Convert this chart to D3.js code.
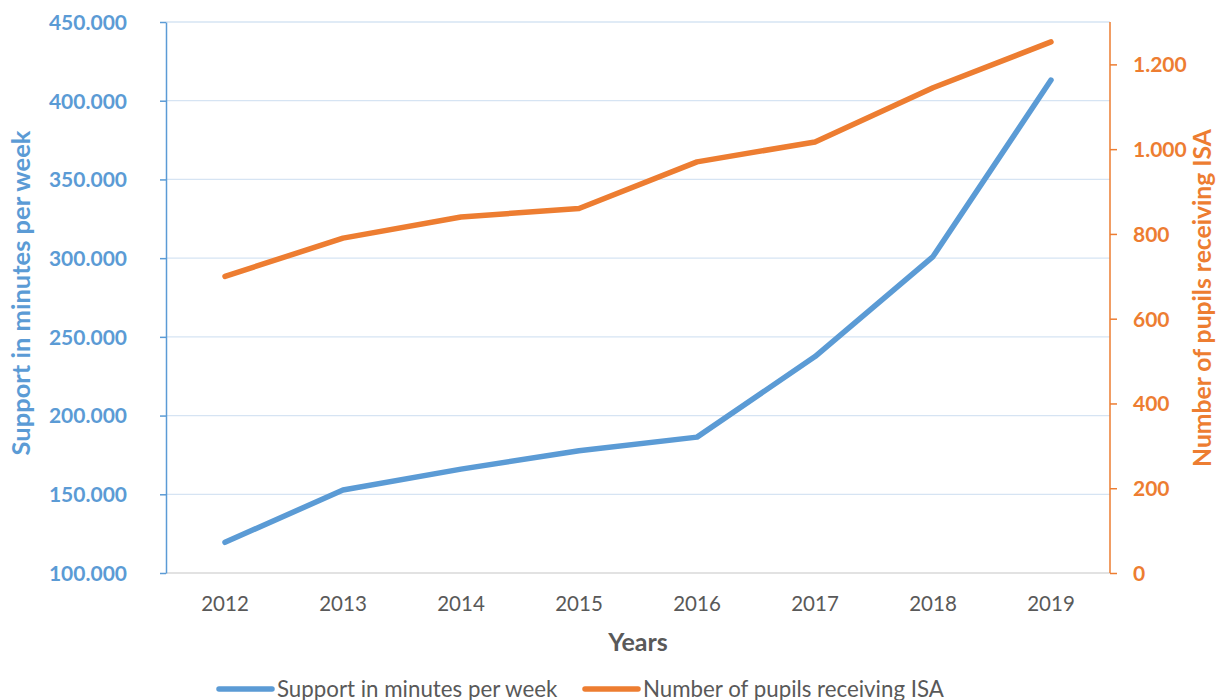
<!DOCTYPE html>
<html>
<head>
<meta charset="utf-8">
<script src="https://cdn.jsdelivr.net/npm/d3@7"></script>
<style>
  html, body { margin: 0; padding: 0; background: #fff; }
  svg text { font-family: Lato, "Open Sans", sans-serif; }
</style>
</head>
<body>
<svg id="chart" width="1217" height="700"></svg>
<script>
// Years on the category axis
const years = ["2012", "2013", "2014", "2015", "2016", "2017", "2018", "2019"];
// Weekly support minutes (left axis)
const supportMinutes = [119500, 152700, 166000, 177700, 186300, 237500, 301000, 413100];
// Pupils receiving ISA (right axis)
const pupilsISA = [700, 790, 840, 860, 970, 1017, 1145, 1253];
// Axis tick values
const leftTicks = [100000, 150000, 200000, 250000, 300000, 350000, 400000, 450000];
const rightTicks = [0, 200, 400, 600, 800, 1000, 1200];

const blue = "#5b9bd5", orange = "#ed7d31", grey = "#595959";

// Dot as thousands separator
const loc = d3.formatLocale({ decimal: ",", thousands: ".", grouping: [3], currency: ["", ""] });
const fmtInt = loc.format(",d");

const plot = { left: 166, right: 1110, top: 22, bottom: 573 };
const svg = d3.select("#chart");

const x = d3.scalePoint().domain(years).range([plot.left, plot.right]).padding(0.5);
const yL = d3.scaleLinear().domain([100000, 450000]).range([plot.bottom, plot.top]);
const yR = d3.scaleLinear().domain([0, 1300]).range([plot.bottom, plot.top]);

// Horizontal gridlines
svg.append("g").selectAll("line").data(leftTicks.slice(1)).join("line")
  .attr("x1", plot.left).attr("x2", plot.right)
  .attr("y1", d => yL(d)).attr("y2", d => yL(d))
  .attr("stroke", "#d6e4f3").attr("stroke-width", 1.3);

// Category baseline
svg.append("line")
  .attr("x1", plot.left).attr("x2", plot.right)
  .attr("y1", plot.bottom).attr("y2", plot.bottom)
  .attr("stroke", "#d9d9d9").attr("stroke-width", 1.3);

// Left axis
const axL = svg.append("g").attr("transform", `translate(${plot.left},0)`)
  .call(d3.axisLeft(yL).tickValues(leftTicks).tickSize(6).tickSizeOuter(0)
    .tickPadding(33).tickFormat(d => fmtInt(d)));
axL.select(".domain").attr("stroke", blue).attr("stroke-width", 1.5);
axL.selectAll(".tick line").attr("stroke", blue).attr("stroke-width", 1.5);
axL.selectAll(".tick text").attr("fill", blue).attr("font-size", 21)
  .attr("font-weight", "bold").attr("font-family", "Lato, sans-serif").attr("dy", "0.35em");

// Right axis
const axR = svg.append("g").attr("transform", `translate(${plot.right},0)`)
  .call(d3.axisRight(yR).tickValues(rightTicks).tickSize(7).tickSizeOuter(0)
    .tickPadding(16).tickFormat(d => fmtInt(d)));
axR.select(".domain").attr("stroke", orange).attr("stroke-width", 1.5)
  .attr("d", `M0,${plot.bottom}H0V${plot.top}`);
axR.selectAll(".tick line").attr("stroke", orange).attr("stroke-width", 1.5);
axR.selectAll(".tick text").attr("fill", orange).attr("font-size", 21)
  .attr("font-weight", "bold").attr("font-family", "Lato, sans-serif").attr("dy", "0.35em");

// Category axis labels
svg.append("g").selectAll("text").data(years).join("text")
  .attr("x", d => x(d)).attr("y", 611)
  .attr("text-anchor", "middle").attr("fill", grey).attr("font-size", 20.5)
  .text(d => d);

// Axis titles
svg.append("text").attr("x", 638).attr("y", 651).attr("text-anchor", "middle")
  .attr("fill", grey).attr("font-size", 25).attr("font-weight", "bold").text("Years");

svg.append("text").attr("transform", "translate(30,293) rotate(-90)")
  .attr("text-anchor", "middle").attr("fill", blue).attr("font-size", 25.5)
  .attr("font-weight", "bold").text("Support in minutes per week");

svg.append("text").attr("transform", "translate(1211,298) rotate(-90)")
  .attr("text-anchor", "middle").attr("fill", orange).attr("font-size", 24.7)
  .attr("font-weight", "bold").text("Number of pupils receiving ISA");

// Series lines
const lineL = d3.line().x((d, i) => x(years[i])).y(d => yL(d));
const lineR = d3.line().x((d, i) => x(years[i])).y(d => yR(d));

svg.append("path").datum(supportMinutes).attr("d", lineL)
  .attr("fill", "none").attr("stroke", blue).attr("stroke-width", 5.5)
  .attr("stroke-linecap", "round").attr("stroke-linejoin", "round");
svg.append("path").datum(pupilsISA).attr("d", lineR)
  .attr("fill", "none").attr("stroke", orange).attr("stroke-width", 5.5)
  .attr("stroke-linecap", "round").attr("stroke-linejoin", "round");

// Legend
const legend = [
  { label: "Support in minutes per week", color: blue, x: 219 },
  { label: "Number of pupils receiving ISA", color: orange, x: 585 }
];
const lg = svg.append("g").selectAll("g").data(legend).join("g")
  .attr("transform", d => `translate(${d.x},689)`);
lg.append("line").attr("x1", 0).attr("x2", 53).attr("y1", 0).attr("y2", 0)
  .attr("stroke", d => d.color).attr("stroke-width", 5.5).attr("stroke-linecap", "round");
lg.append("text").attr("x", 58).attr("y", 7.5).attr("fill", grey).attr("font-size", 22.3)
  .text(d => d.label);
</script>
</body>
</html>
